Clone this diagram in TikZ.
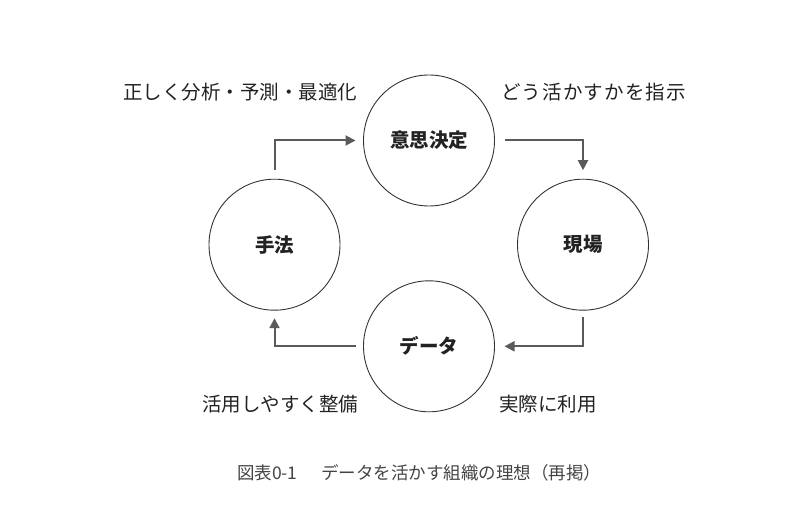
\documentclass[tikz,border=0pt]{standalone}
\usepackage{fontspec}
\setmainfont{Noto Sans CJK JP}
\usetikzlibrary{arrows.meta}
\definecolor{circ}{HTML}{333333}
\definecolor{arrc}{HTML}{5A5A5A}
\definecolor{txt}{HTML}{222222}
\definecolor{capc}{HTML}{444444}
\tikzset{
  cyc/.style={circle, draw=circ, line width=0.9pt, minimum size=131pt, inner sep=0pt, outer sep=0pt,
    font=\fontsize{19.5}{20}\selectfont\bfseries, text=txt},
  arr/.style={draw=arrc, line width=2pt, -{Triangle[length=10pt,width=10pt]}},
  lab/.style={anchor=west, inner sep=0pt, font=\fontsize{19.5}{20}\selectfont, text=txt},
  captext/.style={anchor=west, inner sep=0pt, font=\fontsize{17.5}{18}\selectfont, text=capc}
}
\begin{document}
\begin{tikzpicture}[x=1pt,y=-1pt]
\useasboundingbox (0,0) rectangle (800,529);
\node[cyc] (T) at (429,140.5) {意思決定};
\node[cyc] (L) at (274.5,244.7) {手法};
\node[cyc] (R) at (583,244.7) {現場};
\node[cyc] (B) at (429,346.3) {データ};
\draw[arr, shorten <=9pt, shorten >=8pt] (L.north) |- (T.west);
\draw[arr, shorten <=10pt, shorten >=9pt] (T.east) -| (R.north);
\draw[arr, shorten <=7pt, shorten >=10pt] (R.south) |- (B.east);
\draw[arr, shorten <=8pt, shorten >=8pt] (B.west) -| (L.south);
\node[lab] (l1) at (123,92) {正しく分析・予測・最適化};
\node[lab] (l2) at (501,92) {\addfontfeature{LetterSpace=6}どう活かすかを指示};
\node[lab] (l3) at (202,404) {活用しやすく整備};
\node[lab] (l4) at (499,404) {実際に利用};
\node[captext] (c) at (237,473) {図表0-1\hspace{1.35em}データを活かす組織の理想（再掲）};
\end{tikzpicture}
\end{document}
